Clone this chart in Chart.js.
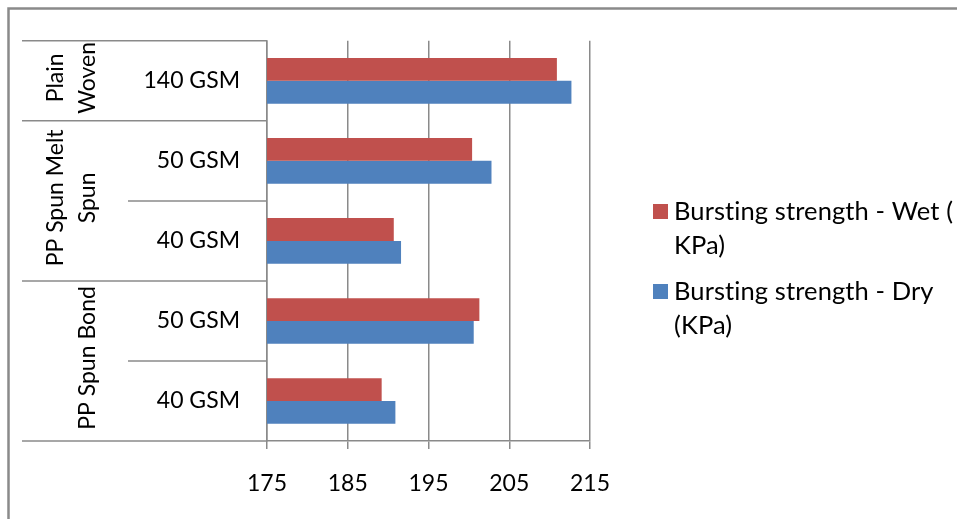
<!DOCTYPE html>
<html>
<head>
<meta charset="utf-8">
<script src="https://cdn.jsdelivr.net/npm/chart.js@4.4.1/dist/chart.umd.min.js"></script>
<style>
  html, body { margin: 0; padding: 0; background: #ffffff; }
  #wrap { position: relative; width: 957px; height: 519px; }
</style>
</head>
<body>
<div id="wrap"><canvas id="chart" width="957" height="519"></canvas></div>
<script>
// Fabric samples, listed top to bottom
const categories = ['140 GSM', '50 GSM', '40 GSM', '50 GSM', '40 GSM'];
// Fabric type groups (wrapped lines) and how many samples each covers
const groupNames = [['Plain', 'Woven'], ['PP Spun Melt', 'Spun'], ['PP Spun Bond']];
const groupSizes = [1, 2, 2];

// Bursting strength, KPa
const wetValues = [210.9, 200.4, 190.7, 201.3, 189.2];
const dryValues = [212.7, 202.8, 191.6, 200.6, 190.9];

const seriesNames = ['Bursting strength - Wet ( KPa)', 'Bursting strength - Dry (KPa)'];
const legendLines = [['Bursting strength - Wet (', 'KPa)'], ['Bursting strength - Dry', '(KPa)']];

const xTickValues = [175, 185, 195, 205, 215];

const FONT_FAMILY = 'Lato, "Open Sans", sans-serif';
const FONT_SIZE = 23;
const LEGEND_FONT_SIZE = 25.5;
const RED = '#C0504D';
const BLUE = '#4F81BD';
const AXIS_GRAY = '#8a8a8a';

// Outer frame, group/category separators, rotated group captions and legend
const categoryFramePlugin = {
  id: 'categoryFrame',
  afterDraw(chart) {
    const ctx = chart.ctx;
    const y = chart.scales.y;
    const left = chart.chartArea.left;
    ctx.save();

    // outer frame
    ctx.strokeStyle = AXIS_GRAY;
    ctx.lineWidth = 2.5;
    ctx.strokeRect(8.5, 8.5, 960, 530);

    ctx.lineWidth = 1.5;
    ctx.strokeStyle = AXIS_GRAY;
    const boundary = i => y.getPixelForValue(i - 0.5);

    // separators between samples inside a group
    let start = 0;
    groupSizes.forEach(size => {
      for (let k = 1; k < size; k++) {
        const py = boundary(start + k);
        ctx.beginPath();
        ctx.moveTo(128, py);
        ctx.lineTo(left, py);
        ctx.stroke();
      }
      start += size;
    });

    // separators between groups (including outer edges)
    start = 0;
    const edges = [0];
    groupSizes.forEach(size => { start += size; edges.push(start); });
    edges.forEach(e => {
      const py = boundary(e);
      ctx.beginPath();
      ctx.moveTo(22, py);
      ctx.lineTo(left, py);
      ctx.stroke();
    });

    // rotated group captions
    ctx.fillStyle = '#000000';
    ctx.font = FONT_SIZE + 'px ' + FONT_FAMILY;
    ctx.textAlign = 'center';
    ctx.textBaseline = 'alphabetic';
    start = 0;
    groupNames.forEach((lines, gi) => {
      const size = groupSizes[gi];
      const cy = (boundary(start) + boundary(start + size)) / 2 - 3;
      const n = lines.length;
      lines.forEach((line, li) => {
        const bx = 95 - (n - 1 - li) * 32;
        ctx.save();
        ctx.translate(bx, cy);
        ctx.rotate(-Math.PI / 2);
        ctx.fillText(line, 0, 0);
        ctx.restore();
      });
      start += size;
    });

    // legend (tiny letter spacing keeps "ti" from forming a ligature)
    const colors = [RED, BLUE];
    ctx.font = LEGEND_FONT_SIZE + 'px ' + FONT_FAMILY;
    if ('letterSpacing' in ctx) ctx.letterSpacing = '0.1px';
    legendLines.forEach((lines, i) => {
      const top = 204 + i * 80;
      ctx.fillStyle = colors[i];
      ctx.fillRect(653, top, 15, 15);
      ctx.fillStyle = '#000000';
      ctx.textAlign = 'left';
      lines.forEach((line, li) => {
        ctx.fillText(line, 674, top + 16 + li * 34);
      });
    });

    ctx.restore();
  }
};

function draw() {
  new Chart(document.getElementById('chart'), {
    type: 'bar',
    data: {
      labels: categories,
      datasets: [
        { label: seriesNames[0], data: wetValues, backgroundColor: RED, borderWidth: 0 },
        { label: seriesNames[1], data: dryValues, backgroundColor: BLUE, borderWidth: 0 }
      ]
    },
    options: {
      indexAxis: 'y',
      responsive: false,
      animation: false,
      devicePixelRatio: 1,
      categoryPercentage: 0.57,
      barPercentage: 1.0,
      layout: { padding: { left: 0, top: 38, right: 367, bottom: 0 } },
      plugins: {
        legend: { display: false },
        tooltip: { enabled: false }
      },
      scales: {
        x: {
          type: 'linear',
          min: 175,
          max: 215,
          afterBuildTicks(scale) { scale.ticks = xTickValues.map(v => ({ value: v })); },
          ticks: {
            color: '#000000',
            font: { family: FONT_FAMILY, size: FONT_SIZE },
            padding: 21,
            maxRotation: 0
          },
          grid: { color: AXIS_GRAY, lineWidth: 1.5, drawTicks: true, tickLength: 8 },
          border: { display: true, color: AXIS_GRAY, width: 1.5 },
          afterFit(scale) { scale.height = 78; }
        },
        y: {
          type: 'category',
          ticks: {
            color: '#000000',
            font: { family: FONT_FAMILY, size: FONT_SIZE },
            padding: 27
          },
          grid: { display: false, drawTicks: false },
          border: { display: true, color: AXIS_GRAY, width: 1.5 },
          afterFit(scale) { scale.width = 267; }
        }
      }
    },
    plugins: [categoryFramePlugin]
  });
}

if (document.fonts && document.fonts.load) {
  document.fonts.load(FONT_SIZE + 'px Lato').then(draw, draw);
} else {
  draw();
}
</script>
</body>
</html>
